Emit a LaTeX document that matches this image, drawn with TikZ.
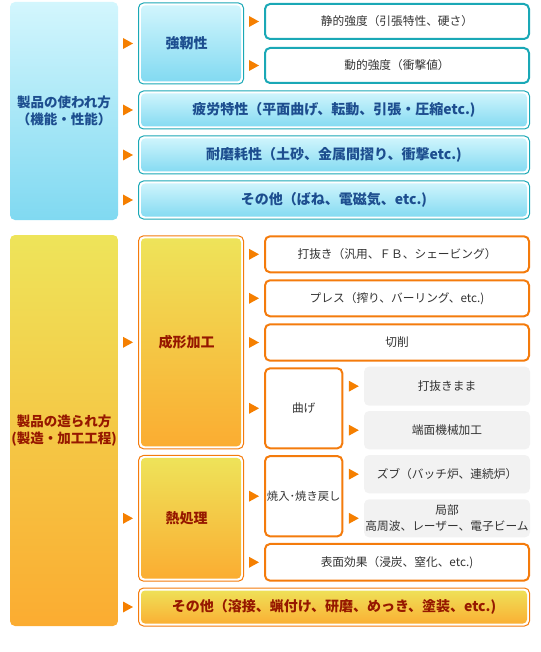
\documentclass[tikz,border=0pt]{standalone}
\usepackage{fontspec}
\setmainfont{Noto Sans CJK JP}
\usetikzlibrary{calc}
\definecolor{tealb}{HTML}{1AA8B6}
\definecolor{bltop}{HTML}{D3F6FD}
\definecolor{blbot}{HTML}{80D9F1}
\definecolor{bltxt}{HTML}{1D4E8F}
\definecolor{yltop}{HTML}{EEE45A}
\definecolor{ylbot}{HTML}{FBAC31}
\definecolor{orb}{HTML}{F47B0C}
\definecolor{rdtxt}{HTML}{961800}
\definecolor{grfill}{HTML}{F2F2F2}
\definecolor{gytxt}{HTML}{333333}
\definecolor{arr}{HTML}{F57F00}
\tikzset{
  base/.style={inner sep=0pt, align=center},
  lpanel/.style={base, rounded corners=5pt, font=\bfseries\fontsize{13.5}{17}\selectfont},
  lpblue/.style={lpanel, top color=bltop, bottom color=blbot, text=bltxt},
  lpyel/.style={lpanel, top color=yltop, bottom color=ylbot, text=rdtxt},
  innershade/.style 2 args={path picture={\shade[top color=#1, bottom color=#2, rounded corners=4pt]
      ([shift={(2.5pt,-2.5pt)}]path picture bounding box.north west) rectangle
      ([shift={(-2.5pt,2.5pt)}]path picture bounding box.south east);}},
  frame/.style={base, line width=1pt, fill=white, rounded corners=5pt, font=\bfseries\fontsize{14}{16}\selectfont},
  frblue/.style={frame, draw=tealb, text=bltxt, innershade={bltop}{blbot}},
  fryel/.style={frame, draw=orb, text=rdtxt, innershade={yltop}{ylbot}},
  wbox/.style={base, line width=2pt, fill=white, rounded corners=5pt, text=gytxt, font=\fontsize{11.7}{15.5}\selectfont},
  wblue/.style={wbox, draw=tealb},
  wor/.style={wbox, draw=orb},
  gbox/.style={base, fill=grfill, rounded corners=5pt, text=gytxt, font=\fontsize{11.7}{15.5}\selectfont},
  arrowtri/.style={fill=arr},
}
\begin{document}
\begin{tikzpicture}[x=1pt, y=-1pt]
\useasboundingbox (0,0) rectangle (540,652);
% top section
\node[lpblue, minimum width=108pt, minimum height=218pt] (use) at (64,111) {製品の使われ方\\（機能・性能）};
\node[frblue, minimum width=105pt, minimum height=81pt] (tough) at (191,43.5) {強靭性\hspace*{9pt}};
\node[wblue, minimum width=264pt, minimum height=35pt] (static) at (397,21.5) {静的強度（引張特性、硬さ）};
\node[wblue, minimum width=264pt, minimum height=35pt] (dynamic) at (397,65.5) {動的強度（衝撃値）};
\node[frblue, minimum width=391pt, minimum height=38pt] (fatigue) at (334,110) {疲労特性（平面曲げ、転動、引張・圧縮etc.)};
\node[frblue, minimum width=391pt, minimum height=38pt] (wear) at (334,155) {耐磨耗性（土砂、金属間摺り、衝撃etc.)};
\node[frblue, minimum width=391pt, minimum height=38pt] (other1) at (334,200) {その他（ばね、電磁気、etc.)};
% bottom section
\node[lpyel, minimum width=108pt, minimum height=391pt] (make) at (64,430.5) {製品の造られ方\\(製造・加工工程)};
\node[fryel, minimum width=105pt, minimum height=213pt] (forming) at (191,342.3) {成形加工\hspace*{9pt}};
\node[fryel, minimum width=105pt, minimum height=125.7pt] (heat) at (191,518.3) {熱処理\hspace*{9pt}};
\node[fryel, minimum width=391pt, minimum height=38pt] (other2) at (334,607) {その他（溶接、蝋付け、研磨、めっき、塗装、etc.)};
\node[wor, minimum width=264pt, minimum height=36pt] (punch) at (397,254.3) {打抜き（汎用、ＦＢ、シェービング）};
\node[wor, minimum width=264pt, minimum height=36pt] (press) at (397,298.3) {プレス（搾り、バーリング、etc.)};
\node[wor, minimum width=264pt, minimum height=36.4pt] (cut) at (397,342.5) {切削};
\node[wor, minimum width=77.3pt, minimum height=80pt] (bend) at (303.7,408.3) {曲げ};
\node[gbox, minimum width=166pt, minimum height=39pt] (asp) at (447,386.2) {打抜きまま};
\node[gbox, minimum width=166pt, minimum height=38.3pt] (edge) at (447,430.2) {端面機械加工};
\node[wor, minimum width=77.3pt, minimum height=80.3pt, font=\fontsize{11.3}{14}\selectfont] (quench) at (303.7,496.2) {焼入･焼き戻し};
\node[gbox, minimum width=166pt, minimum height=38.3pt] (zubu) at (447,474.2) {ズブ（バッチ炉、連続炉）};
\node[gbox, minimum width=166pt, minimum height=38pt] (local) at (447,518.3) {局部\\高周波、レーザー、電子ビーム};
\node[wor, minimum width=264pt, minimum height=36.7pt] (surface) at (397,562.3) {表面効果（浸炭、窒化、etc.)};
% arrows
\foreach \t in {tough,static,dynamic,fatigue,wear,other1,forming,heat,other2,punch,press,cut,bend,asp,edge,quench,zubu,local,surface}
  \fill[arrowtri] ($(\t.west)+(-5pt,0pt)$) -- ++(-10pt,5.5pt) -- ++(0pt,-11pt) -- cycle;
\end{tikzpicture}
\end{document}
